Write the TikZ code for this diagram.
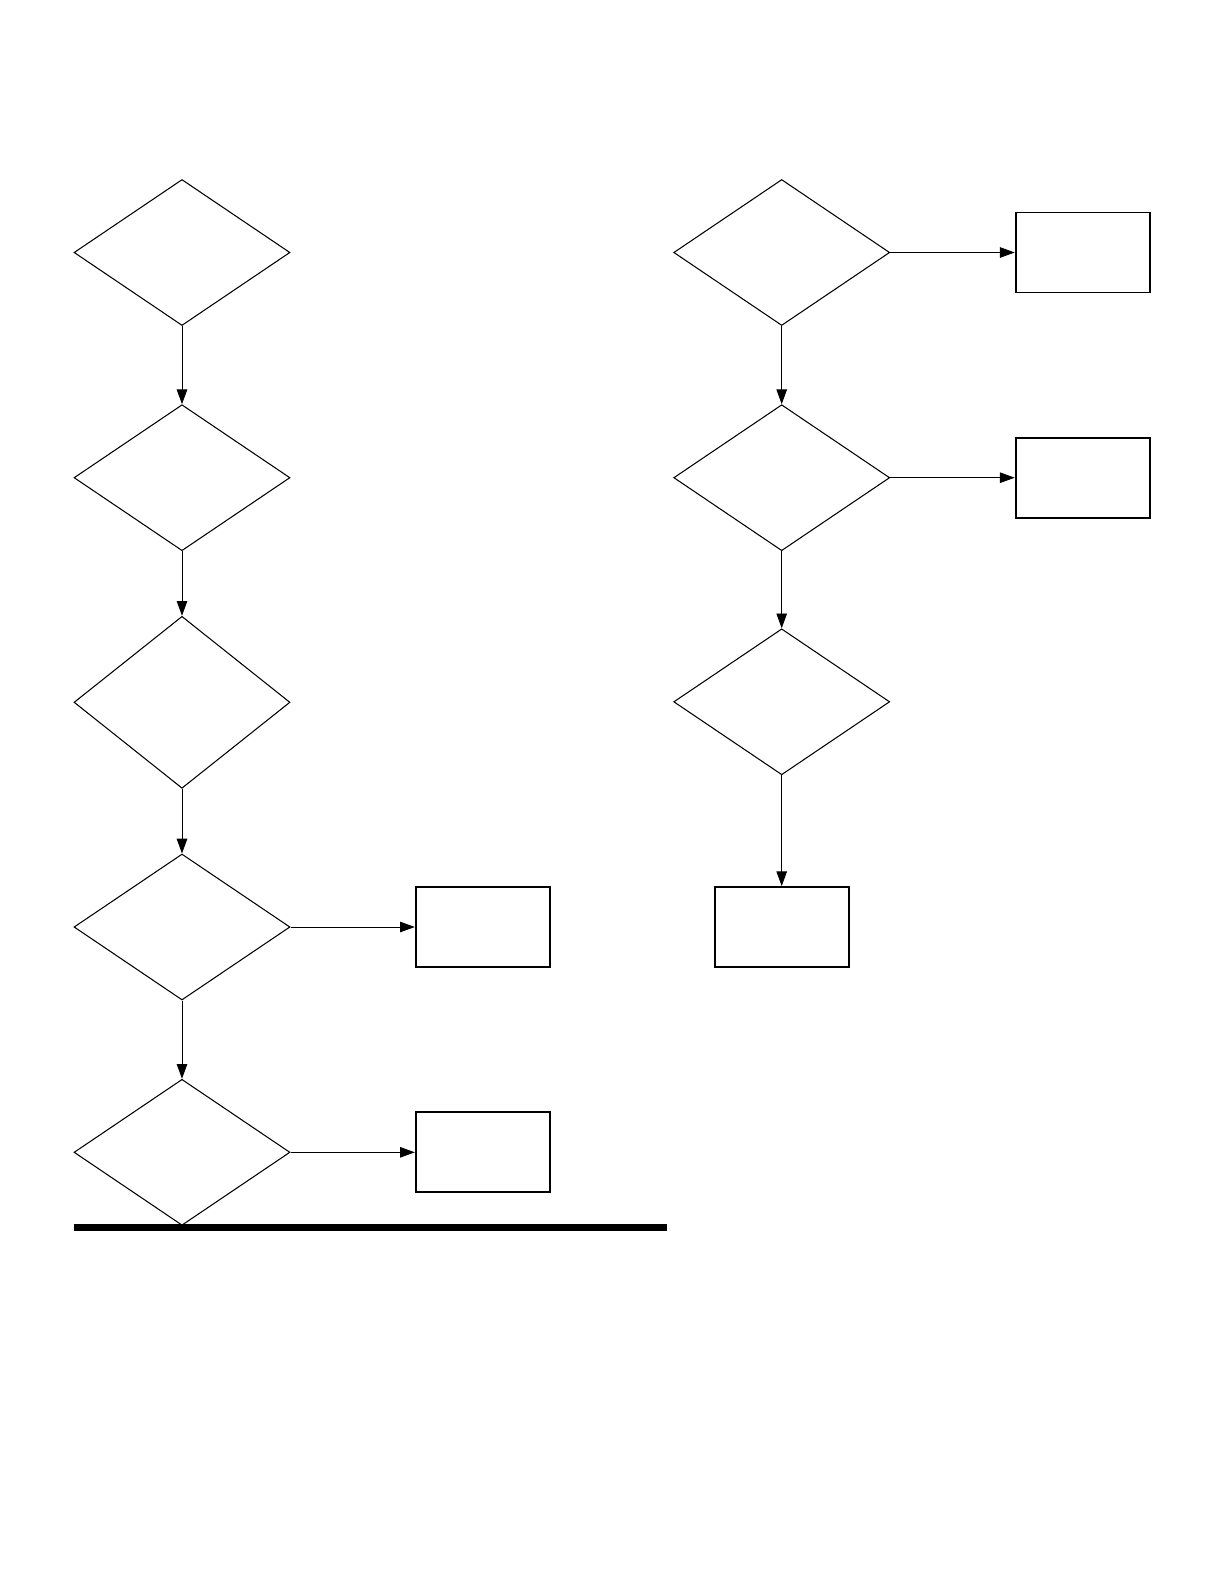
\documentclass[tikz,border=0pt]{standalone}
\usetikzlibrary{shapes.geometric,arrows.meta}
\tikzset{
  decision/.style={draw,diamond,inner sep=0pt,line width=1.5pt,minimum width=108mm,minimum height=73mm},
  outcome/.style={draw,rectangle,inner sep=0pt,line width=2.6pt,minimum width=67mm,minimum height=40mm},
  flow/.style={line width=1.2pt,-{Triangle[length=21pt,width=15pt]}}
}
\begin{document}
\begin{tikzpicture}[x=0.5mm,y=-0.5mm]
  \useasboundingbox (0,0) rectangle (1224,1584);
  % left column
  \node[decision] (l1) at (182,252.5) {};
  \node[decision] (l2) at (182,477.7) {};
  \node[decision,minimum height=86mm] (l3) at (182,702.3) {};
  \node[decision] (l4) at (182,927) {};
  \node[decision] (l5) at (182,1152.3) {};
  \node[outcome] (lb4) at (482.7,927) {};
  \node[outcome] (lb5) at (482.7,1152.3) {};
  % right column
  \node[decision] (r1) at (781.7,252.5) {};
  \node[decision] (r2) at (781.7,477.7) {};
  \node[decision] (r3) at (781.7,701.8) {};
  \node[outcome] (rb1) at (1082.6,252.5) {};
  \node[outcome] (rb2) at (1082.6,477.7) {};
  \node[outcome] (rb3) at (781.7,927) {};
  % connectors
  \draw[flow] (l1) -- (l2);
  \draw[flow] (l2) -- (l3);
  \draw[flow] (l3) -- (l4);
  \draw[flow] (l4) -- (l5);
  \draw[flow] (l4.east) -- (lb4.west);
  \draw[flow] (l5.east) -- (lb5.west);
  \draw[flow] (r1) -- (r2);
  \draw[flow] (r2) -- (r3);
  \draw[flow] (r3) -- (rb3);
  \draw[flow] (r1.east) -- (rb1.west);
  \draw[flow] (r2.east) -- (rb2.west);
  % bottom rule
  \draw[line width=10pt] (73.7,1227.5) -- (666.5,1227.5);
\end{tikzpicture}
\end{document}
